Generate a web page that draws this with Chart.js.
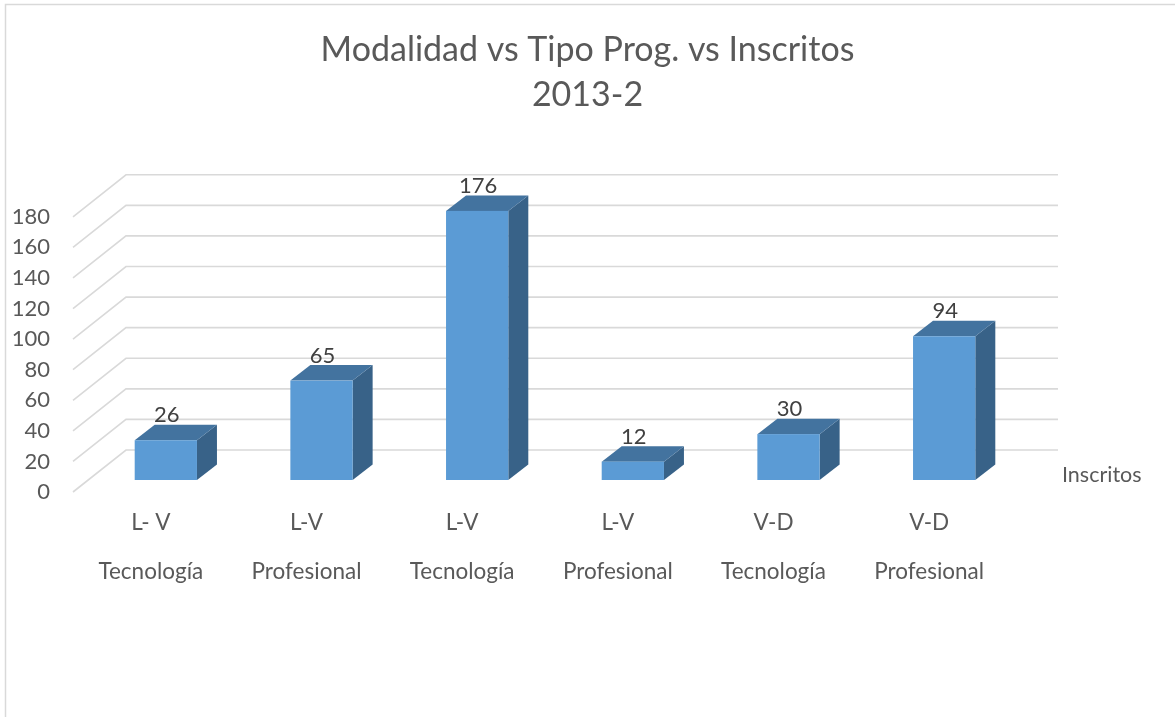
<!DOCTYPE html>
<html>
<head>
<meta charset="utf-8">
<script src="https://cdn.jsdelivr.net/npm/chart.js@4"></script>
<style>
  html, body { margin: 0; padding: 0; background: #fff; }
  #wrap { width: 1175px; height: 717px; }
</style>
</head>
<body>
<div id="wrap"><canvas id="chart" width="1175" height="717"></canvas></div>
<script>
// Data
const categories = [
    ['L- V', 'Tecnología'],
    ['L-V', 'Profesional'],
    ['L-V', 'Tecnología'],
    ['L-V', 'Profesional'],
    ['V-D', 'Tecnología'],
    ['V-D', 'Profesional']
];
const inscritos = [26, 65, 176, 12, 30, 94];
const seriesName = 'Inscritos';
const titleLines = ['Modalidad vs Tipo Prog. vs Inscritos', '2013-2'];

const FONT = 'Lato, "Open Sans", sans-serif';
const TEXT = '#595959';
const GRID = '#d9d9d9';

// fake 3D: depth of the whole plot and of each bar
const wallDepth = { dx: 53, dy: -42 };
const barShift = { dx: 15, dy: -12 };
const barDepth = { dx: 20, dy: -15.5 };

// Chart frame (only left and top edges are visible in the picture)
const framePlugin = {
    id: 'frame',
    beforeDraw(chart) {
        const ctx = chart.ctx;
        ctx.save();
        ctx.strokeStyle = GRID;
        ctx.lineWidth = 1.5;
        ctx.beginPath();
        ctx.moveTo(5.5, chart.height);
        ctx.lineTo(5.5, 4.5);
        ctx.lineTo(chart.width, 4.5);
        ctx.stroke();
        ctx.restore();
    }
};

// Slanted side-wall gridlines + back-wall gridlines
const wallGridPlugin = {
    id: 'wallGrid',
    beforeDatasetsDraw(chart) {
        const { ctx, chartArea } = chart;
        const y = chart.scales.y;
        ctx.save();
        ctx.strokeStyle = GRID;
        ctx.lineWidth = 1.6;
        y.ticks.forEach(t => {
            const py = y.getPixelForValue(t.value);
            ctx.beginPath();
            ctx.moveTo(chartArea.left, py);
            ctx.lineTo(chartArea.left + wallDepth.dx, py + wallDepth.dy);
            ctx.lineTo(chartArea.right + wallDepth.dx - 2, py + wallDepth.dy);
            ctx.stroke();
        });
        ctx.restore();
    }
};

// Draw the boxes from the bar elements, plus value labels and series name
const bars3dPlugin = {
    id: 'bars3d',
    afterDatasetsDraw(chart) {
        const ctx = chart.ctx;
        const meta = chart.getDatasetMeta(0);
        const data = chart.data.datasets[0].data;
        ctx.save();
        meta.data.forEach((bar, i) => {
            const p = bar.getProps(['x', 'y', 'base', 'width'], true);
            const x1 = p.x - p.width / 2 + barShift.dx;
            const x2 = p.x + p.width / 2 + barShift.dx;
            const yt = p.y + barShift.dy;
            const yb = p.base + barShift.dy;
            const bx = barDepth.dx, by = barDepth.dy;

            // side
            ctx.fillStyle = '#386288';
            ctx.beginPath();
            ctx.moveTo(x2, yt);
            ctx.lineTo(x2 + bx, yt + by);
            ctx.lineTo(x2 + bx, yb + by);
            ctx.lineTo(x2, yb);
            ctx.closePath();
            ctx.fill();

            // top
            ctx.fillStyle = '#43739f';
            ctx.beginPath();
            ctx.moveTo(x1, yt);
            ctx.lineTo(x2, yt);
            ctx.lineTo(x2 + bx, yt + by);
            ctx.lineTo(x1 + bx, yt + by);
            ctx.closePath();
            ctx.fill();

            // front
            ctx.fillStyle = '#5b9bd5';
            ctx.fillRect(x1, yt, x2 - x1, yb - yt);

            // value label
            ctx.fillStyle = '#404040';
            ctx.font = '22px ' + FONT;
            ctx.textAlign = 'center';
            ctx.textBaseline = 'alphabetic';
            ctx.fillText(String(data[i]), (x1 + x2) / 2 + 1, yt + by - 2.5);
        });

        // series (depth axis) label
        const ca = chart.chartArea;
        const y0 = chart.scales.y.getPixelForValue(0);
        ctx.fillStyle = TEXT;
        ctx.font = '21.5px ' + FONT;
        ctx.textAlign = 'left';
        ctx.textBaseline = 'middle';
        ctx.fillText(chart.data.datasets[0].label, ca.right + 55, y0 - 17);
        ctx.restore();
    }
};

new Chart(document.getElementById('chart'), {
    type: 'bar',
    data: {
        labels: categories,
        datasets: [{
            label: seriesName,
            data: inscritos,
            backgroundColor: 'rgba(0,0,0,0)',
            borderWidth: 0,
            categoryPercentage: 1,
            barPercentage: 0.4
        }]
    },
    options: {
        responsive: false,
        animation: false,
        layout: { padding: 0 },
        plugins: {
            legend: { display: false },
            tooltip: { enabled: false },
            title: {
                display: true,
                text: titleLines,
                color: TEXT,
                font: { family: FONT, size: 34, weight: 'normal', lineHeight: 1.32 },
                padding: { top: 28, bottom: 99 }
            }
        },
        scales: {
            x: {
                grid: { display: false, drawTicks: false },
                border: { display: false },
                ticks: {
                    color: TEXT,
                    font: { family: FONT, size: 22.5, lineHeight: 2.18 },
                    padding: 6,
                    maxRotation: 0,
                    autoSkip: false
                },
                afterFit(scale) { scale.height = 225; }
            },
            y: {
                min: 0,
                max: 180,
                grid: { display: false, drawTicks: false },
                border: { display: false },
                ticks: {
                    stepSize: 20,
                    color: TEXT,
                    font: { family: FONT, size: 22 },
                    padding: 23
                },
                afterFit(scale) { scale.width = 73; }
            },
            // empty right-hand axis only reserves the space of the back wall + series name
            yRight: {
                position: 'right',
                display: true,
                grid: { display: false, drawTicks: false },
                border: { display: false },
                ticks: { display: false },
                afterFit(scale) { scale.width = 168; }
            }
        }
    },
    plugins: [framePlugin, wallGridPlugin, bars3dPlugin]
});
</script>
</body>
</html>
